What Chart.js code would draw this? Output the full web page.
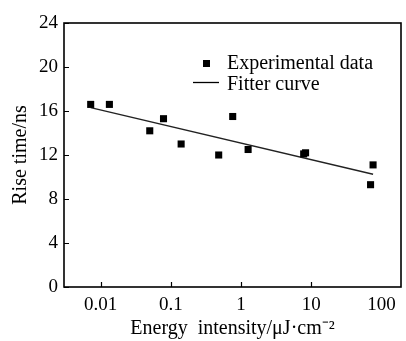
<!DOCTYPE html>
<html>
<head>
<meta charset="utf-8">
<script src="https://cdn.jsdelivr.net/npm/chart.js@4.4.1/dist/chart.umd.min.js"></script>
<style>
  html, body { margin: 0; padding: 0; background: #fff; }
  #wrap { width: 406px; height: 341px; }
</style>
</head>
<body>
<div id="wrap"><canvas id="myChart1"></canvas></div>
<script>
// measured points
var energyX = [0.0072, 0.0133, 0.050, 0.0785, 0.140, 0.48, 0.76, 1.26, 7.8, 8.3, 70, 76];
var riseY = [16.6, 16.6, 14.2, 15.3, 13.0, 12.0, 15.5, 12.5, 12.1, 12.2, 9.3, 11.1];
// fitted line end points
var fitX = [0.0072, 76];
var fitY = [16.3, 10.25];
var xTicks = [0.01, 0.1, 1, 10, 100];
var xTickMarks = [0.01, 0.1, 1, 10]; // no mark drawn at 100 in the original
var yTicks = [0, 4, 8, 12, 16, 20, 24];

var serif = "'Liberation Serif', 'Times New Roman', serif";

// box round plot + inward ticks
var frame = {
    id: 'frame',
    afterDraw: function (chart) {
        var ctx = chart.ctx, a = chart.chartArea;
        var sx = chart.scales.x, sy = chart.scales.y;
        ctx.save();
        ctx.strokeStyle = '#000';
        ctx.lineWidth = 1.6;
        ctx.strokeRect(a.left, a.top, a.right - a.left, a.bottom - a.top);
        ctx.lineWidth = 1.2;
        ctx.beginPath();
        xTickMarks.forEach(function (v) {
            var px = Math.round(sx.getPixelForValue(v)) + 0.5;
            ctx.moveTo(px, a.bottom);
            ctx.lineTo(px, a.bottom - 5);
        });
        yTicks.forEach(function (v) {
            var py = Math.round(sy.getPixelForValue(v)) + 0.5;
            ctx.moveTo(a.left, py);
            ctx.lineTo(a.left + 5, py);
        });
        ctx.stroke();
        ctx.restore();
    }
};

// legend inside the plot
var inLegend = {
    id: 'inLegend',
    afterDraw: function (chart) {
        var ctx = chart.ctx;
        var ds = chart.data.datasets;
        ctx.save();
        ctx.fillStyle = '#000';
        ctx.fillRect(203, 60, 7, 7);
        ctx.strokeStyle = '#000';
        ctx.lineWidth = 1.3;
        ctx.beginPath();
        ctx.moveTo(193, 82.5);
        ctx.lineTo(219, 82.5);
        ctx.stroke();
        ctx.font = '20px ' + serif;
        ctx.textBaseline = 'middle';
        ctx.fillText(ds[0].label, 227, 64);
        ctx.fillText(ds[1].label, 227, 85);
        ctx.restore();
    }
};

new Chart("myChart1", {
    type: 'scatter',
    data: {
        datasets: [{
            label: 'Experimental data',
            data: energyX.map(function (x, i) { return { x: x, y: riseY[i] }; }),
            pointStyle: 'rect',
            pointRadius: 5,
            pointHoverRadius: 5,
            backgroundColor: '#000',
            borderColor: '#000',
            borderWidth: 0,
            order: 1
        }, {
            type: 'line',
            label: 'Fitter curve',
            data: fitX.map(function (x, i) { return { x: x, y: fitY[i] }; }),
            borderColor: '#222',
            borderWidth: 1.3,
            pointRadius: 0,
            fill: false,
            order: 2
        }]
    },
    options: {
        maintainAspectRatio: false,
        responsive: true,
        animation: false,
        plugins: { legend: { display: false }, tooltip: { enabled: false } },
        layout: { padding: { left: 0, right: 3, top: 23, bottom: 0 } },
        scales: {
            x: {
                type: 'logarithmic',
                min: 0.003,
                max: 190,
                afterBuildTicks: function (scale) {
                    scale.ticks = xTicks.map(function (v) { return { value: v }; });
                },
                afterFit: function (scale) { scale.height = 54; },
                grid: { display: false, drawTicks: false },
                border: { display: false },
                ticks: {
                    color: '#000',
                    font: { family: serif, size: 19 },
                    padding: 7,
                    maxRotation: 0,
                    autoSkip: false,
                    callback: function (v) { return String(v); }
                },
                title: {
                    display: true,
                    text: 'Energy  intensity/\u03bcJ\u00b7cm\u207b\u00b2',
                    color: '#000',
                    font: { family: serif, size: 20 },
                    padding: { top: 2, bottom: 0 }
                }
            },
            y: {
                min: 0,
                max: 24,
                afterBuildTicks: function (scale) {
                    scale.ticks = yTicks.map(function (v) { return { value: v }; });
                },
                afterFit: function (scale) { scale.width = 64; },
                grid: { display: false, drawTicks: false },
                border: { display: false },
                ticks: {
                    color: '#000',
                    font: { family: serif, size: 19 },
                    padding: 6
                },
                title: {
                    display: true,
                    text: 'Rise time/ns',
                    color: '#000',
                    font: { family: serif, size: 20 },
                    padding: { top: 9, bottom: 0 }
                }
            }
        }
    },
    plugins: [frame, inLegend]
});
</script>
</body>
</html>
